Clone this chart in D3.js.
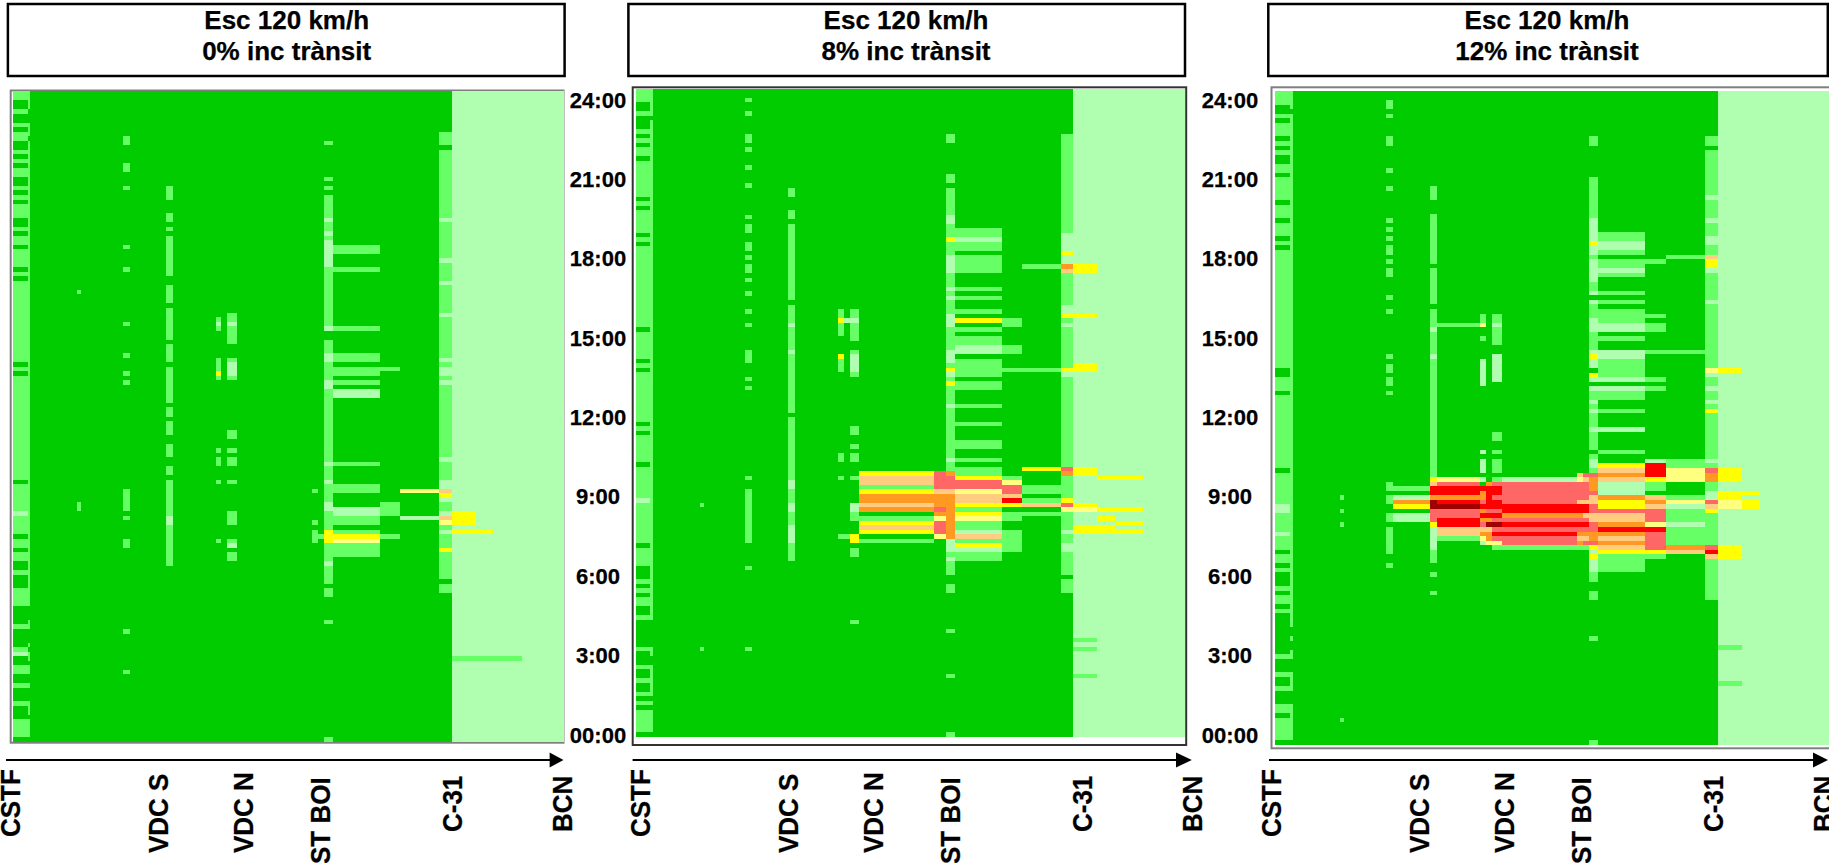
<!DOCTYPE html>
<html><head><meta charset="utf-8">
<style>html,body{margin:0;padding:0;background:#fff;overflow:hidden}text{font-family:"Liberation Sans",Arial,sans-serif;font-weight:bold;fill:#000;stroke:#000;stroke-width:.25px}</style>
<script src="https://cdn.jsdelivr.net/npm/d3@7/dist/d3.min.js"></script></head>
<body><script>
// Section boundaries along the motorway (km)
const sectionKm=[0,2.94,3.48,12.8,13.6,21.92,23.34,30.6,31.96,40.5,41.68,42.88,44.84,59.88,61.06,62.24,64,73.32,77.4,85.2,87.7,92.54,96,101.8,110.1];
const stationNames=["CSTF","VDC S","VDC N","ST BOI","C-31","BCN"];
const stationKm=[-0.6,29,46,61.4,87.8,109.8];
const timeTickHours=[24,21,18,15,12,9,6,3,0];
const timeTickLabels=["24:00","21:00","18:00","15:00","12:00","9:00","6:00","3:00","00:00"];
const levelColours=[null,"#00cc00","#66ff66","#b0ffb0","#ffff80","#ffff00","#ffcc80","#ff9922","#ff6666","#ff0000","#a00000"];
const slotCount=144; // ten-minute slots, counted down from 24:00
const baseLevelByColumn=d=>d<20?1:3;
const titleLine1="Esc 120 km/h";
const titleLines2=["0% inc trànsit","8% inc trànsit","12% inc trànsit"];

// [column(s), level, slots]; a slot is n or [from, toExclusive]
const cells0=[
[0,2,[[0,2],[4,5],[7,8],[9,11],[13,14],[15,16],[17,19],[21,22],[23,24],[25,28],[30,31],[32,34],[35,39],[40,41],[42,60],[61,62],[63,86],[87,98],[99,101],[102,104],[106,107],[110,114],[118,119],[123,125],[127,129],[131,132],[135,136],[139,143]]],
[0,3,[93,124]],
[1,2,[[0,4],[7,10],[11,114],[117,119],[122,123],[124,126],[127,129],[131,132],[135,138],[139,143]]],
[3,2,[44,91,92]],
[5,2,[10,11,16,17,21,34,39,51,58,62,64,[88,93],94,99,100,119,128]],
[7,2,[[21,24],27,28,30,[32,41],[43,47],[48,55],[56,60],[61,69],70,71,73,74,75,[78,81],83,84,[86,105]]],
[7,3,[94,95]],
[9,2,[[50,53],[59,64],79,81,82,86,99]],[9,3,[51]],[9,5,[62]],
[11,2,[[49,56],[59,64],75,76,79,81,82,86,93,94,95,99,100,102,103]],[11,3,[51,60,61,62,100]],
[13,2,[88,95,97,98,99]],[14,2,[98]],
[15,2,[11,19,21,[23,53],[55,109],[110,112],117,143]],
[15,3,[28,31,[33,39],52,58,59,64,65,82,86,91,92,104]],[15,5,[97,98,99]],
[16,2,[34,35,39,52,58,59,61,62,64,82,87,88,94,95,97,100,101,102]],[16,3,[66,67,92,93]],[16,5,[98]],[16,4,[99]],
[17,2,[61,91,92,93,98]],
[18,4,[88]],[18,3,[94]],
[19,2,[[9,12],[13,108],[109,111]]],
[19,3,[28,37,42,49,59,61,62,64,81,86,87,90,93,97]],[19,6,[88,94]],[19,5,[89,101]],[19,4,[95]],
[20,5,[93,94,95,97]],[21,5,[97]],[[20,21,22],2,[125]]
];
const cells8=[
[0,2,[[0,3],[5,6],[9,10],[11,12],[13,15],[16,24],[25,26],[27,32],[33,34],[35,53],[54,60],[61,62],[63,74],[75,76],[77,83],[84,101],[102,106],[109,110],[111,112],[113,115],[117,118],[124,125],[128,129],[131,132],[134,135],[136,137],[138,143]]],
[0,3,[91]],
[1,2,[[0,6],[7,118],[124,126],[128,135],[136,137],[138,143]]],
[3,2,[92,124]],
[5,2,[2,5,10,11,13,17,21,28,30,31,34,35,37,39,40,42,45,49,52,58,59,60,64,66,86,[89,101],106,124]],
[7,2,[22,23,27,28,[30,47],[48,72],[73,105]]],[7,3,[52,58,87,88,92,93,97,98,99,100]],
[9,2,[[49,55],[59,63],81,82,86,99]],[9,5,[51,59]],[10,3,[51]],[10,2,[99]],
[11,2,[[49,56],[58,64],75,76,79,81,82,86,94,95,102,103,118]],[11,3,[51,59,60,61,62,92,93]],[11,5,[99,100]],
[12,5,[85,89,96,98]],[12,6,[86,87,92,97]],[12,2,[88,95,100]],[12,7,[90,91,93]],
[[13,14],8,[[85,89],93,96,97,98]],[[13,14],6,[89]],[[13,14],7,[90,91,92,94]],[[13,14],4,[95,99]],
[15,2,[10,11,19,20,[22,85],[103,108],110,111,120,130,143]],
[15,3,[28,29,[37,41],44,46,[50,53],[58,61],63,70,82,[100,103],104]],[15,5,[33,62,65]],
[15,7,[85,[90,100]]],[15,8,[86,87,88]],[15,6,[89]],
[16,2,[[31,36],[37,41],44,46,49,53,55,56,[60,64],65,66,70,74,78,79,82,84,85,88,93,96,97,100,103,104]],
[16,3,[33,57,58,98,102]],[16,5,[51,86,92,94,101]],[16,8,[87,88]],[16,4,[89,95]],[16,6,[90,91,99]],
[17,2,[51,52,57,58,62,86,94,95,[98,103]]],[17,4,[87]],[17,8,[88,89]],[17,6,[90]],[17,9,[91]],[17,5,[92]],
[18,2,[39,62,88,89,91,94]],[18,5,[84]],[18,6,[92]],
[19,2,[[10,108],109,110,111]],
[19,3,[[32,36],37,38,48,49,52,63,98,101,102]],[19,5,[36,50,62,91]],[19,7,[39,85]],[19,6,[40]],[19,8,[84,92]],[19,4,[93]],
[20,5,[39,40,50,61,62,84,85,92,97,98]],[20,4,[93]],[20,2,[122,124,130]],
[21,5,[86,93,95,97,98]],[22,5,[86,93,96,98]]
];
const cells12=[
[0,2,[[0,3],[5,6],[7,10],[11,12],[13,14],[16,18],[19,24],[25,28],[29,32],[33,34],[35,61],[63,66],[67,83],[84,101],[102,104],[105,106],[109,110],[111,113],[114,115],[124,125],[128,129],[131,132],[135,137],[138,141],[141,143]]],
[0,3,[91,92,97]],
[1,2,[[0,4],[5,118],120,[123,125],[128,132],[135,143]]],
[3,2,[89,92,95,138]],
[5,2,[2,3,5,10,11,17,21,28,30,32,34,35,37,39,40,45,48,58,60,61,63,64,66,86,87,89,90,93,94,[96,102],104]],
[6,2,[87]],[6,3,[89,93,94]],[6,7,[90]],[6,5,[91]],
[7,2,[[21,24],[27,38],[39,47],[48,85],[101,104],106,110]],[7,3,[52,58,[96,101]]],
[7,5,[85]],[7,6,[86]],[7,9,[87,88]],[7,7,[89]],[7,10,[90,91]],[7,8,[92,93,94]],[7,5,[95]],
[8,2,[51,98]],[8,4,[85]],[8,8,[86,92,93]],[8,9,[87,88,90,94,95]],[8,7,[89]],[8,10,[91]],[8,6,[96,97]],
[9,2,[49,50,54]],[9,3,[[59,65],79,81,82,83,85,99]],[9,4,[51,98]],[9,9,[87,91,93]],[9,7,[88,89,92,94,97]],[9,8,[90,95]],[9,6,[96]],
[10,7,[86,94,97,98]],[10,9,[87,88,89,90,91,93]],[10,8,[92]],[10,10,[95]],[10,6,[96]],[10,4,[99]],
[11,2,[[49,56],75,76,79,[81,84],85,100]],[11,3,[51,[58,64]]],
[11,8,[86,89,92,94,96,98]],[11,9,[87,88,90,91,93,97]],[11,10,[95]],[11,4,[99]],
[12,3,[85]],[12,8,[86,87,88,89,90,94,96,98,99]],[12,9,[91,92,95,97]],[12,7,[93]],[12,2,[100]],
[13,6,[84,90,98]],[13,4,[85]],[13,8,[86,87,88,89,94,96]],[13,9,[91,92,95]],[13,7,[93,97,99]],[13,2,[100]],
[14,8,[84,86,87,88,89,94,96,99]],[14,6,[85,90,93,98]],[14,9,[91,92,95]],[14,7,[97]],[14,2,[100]],
[15,2,[10,11,[19,28],[72,79],[106,108],110,111,120,143,[31,33],36,[42,44],[47,50],[53,57],[66,68],69,71,80,83]],
[15,3,[28,29,30,31,32,[34,36],[37,42],44,46,[50,53],57,[59,61],63,65,68,70,74,81,82,101,[103,106]]],[15,5,[33,58,62,100,102]],
[15,8,[84,88,91,92,95,96,99]],[15,7,[85,86,87,97,98]],[15,6,[89,90,93,94]],
[16,2,[31,32,35,37,38,40,44,46,48,49,50,54,59,60,61,62,66,67,70,79,[102,106]]],
[16,3,[33,34,39,51,52,57,58,63,65,74,86,87,88]],
[16,5,[82,90,91,101]],[16,6,[83,85,93,94,98,100]],[16,7,[84,89,95,97,99]],[16,8,[92]],[16,9,[96]],
[17,2,[37,49,51,52,57,63,65,86,87,102]],[17,3,[81]],[17,9,[82,83,84,96]],[17,5,[85,101]],
[17,6,[89,91]],[17,7,[90]],[17,8,[92,93,94,97,98,99,100]],[17,4,[95]],
[18,2,[36,57,81,82,89,92,93,94,96,97,98,99]],[18,4,[83,84,85,90]],[18,3,[91,95]],[18,7,[100]],[18,6,[101]],
[19,2,[[10,12],[13,112]]],
[19,3,[23,28,32,33,39,46,62,65,68,70,81,88,89]],[19,6,[36,91,102]],[19,5,[37,38,70,92]],[19,4,[61]],
[19,8,[83,90,100]],[19,7,[84,85]],[19,9,[101]],
[20,5,[61,83,84,85,88,89,[100,103]]],[20,4,[90,91]],[20,2,[122,130]],
[21,5,[88,90,91]]
];

const panels=[
 {cells:cells0,title:titleLines2[0],xr:[13,563.5],yr:[91,742],box:[10.7,90.5,563.5,742.7],stroke:"#7f7f7f",titleBox:[7.9,4,564.6,76],titleX:286.7,arrow:[6,549.6,563.5],labelDx:0},
 {cells:cells8,title:titleLines2[1],xr:[635.8,1185],yr:[89,736.7],box:[632.7,87.3,1186.2,745],stroke:"#333",titleBox:[628.4,4,1185,76],titleX:906,arrow:[632.6,1176,1191.8],labelDx:630},
 {cells:cells12,title:titleLines2[2],xr:[1275.2,1831],yr:[91,745],box:[1271.5,87.3,1840,748.3],stroke:"#7f7f7f",titleBox:[1268.3,4,1827.8,76],titleX:1547,arrow:[1269,1813,1828],labelDx:1260.5}
];
const labelBottomY={"CSTF":837,"VDC S":853,"VDC N":853,"ST BOI":864,"C-31":832,"BCN":832};
const refX=d3.scaleLinear().domain([0,110.1]).range([13,563.5]);

const svg=d3.select("body").append("svg").attr("width",1829).attr("height",863).style("display","block");
panels.forEach(p=>{
  const g=svg.append("g");
  const x=d3.scaleLinear().domain([0,110.1]).range(p.xr);
  const y=d3.scaleLinear().domain([0,slotCount]).range(p.yr);
  g.append("rect").attr("x",p.titleBox[0]).attr("y",p.titleBox[1]).attr("width",p.titleBox[2]-p.titleBox[0]).attr("height",p.titleBox[3]-p.titleBox[1]).attr("fill","#fff").attr("stroke","#000").attr("stroke-width",2.5);
  const t=g.append("text").attr("text-anchor","middle").attr("font-size",26);
  t.append("tspan").attr("x",p.titleX).attr("y",28.5).text(titleLine1);
  t.append("tspan").attr("x",p.titleX).attr("y",60).text(p.title);
  g.append("rect").attr("x",p.box[0]).attr("y",p.box[1]).attr("width",p.box[2]-p.box[0]).attr("height",p.box[3]-p.box[1]).attr("fill","#fff").attr("stroke",p.stroke).attr("stroke-width",2);
  const cols=d3.range(sectionKm.length-1);
  g.selectAll(".base").data(cols).join("rect").attr("class","base")
    .attr("x",c=>x(sectionKm[c])).attr("width",c=>x(sectionKm[c+1])-x(sectionKm[c]))
    .attr("y",y(0)).attr("height",y(slotCount)-y(0))
    .attr("fill",c=>levelColours[baseLevelByColumn(c)]).attr("shape-rendering","crispEdges");
  const flat=[];
  p.cells.forEach(([c,l,rows])=>{
    (Array.isArray(c)?c:[c]).forEach(col=>rows.forEach(r=>{
      const [a,b]=Array.isArray(r)?r:[r,r+1];
      flat.push({col,l,a,b});
    }));
  });
  g.selectAll(".cell").data(flat).join("rect").attr("class","cell")
    .attr("x",d=>x(sectionKm[d.col])).attr("width",d=>x(sectionKm[d.col+1])-x(sectionKm[d.col]))
    .attr("y",d=>y(d.a)).attr("height",d=>y(d.b)-y(d.a))
    .attr("fill",d=>levelColours[d.l]).attr("shape-rendering","crispEdges");
  const yA=760;
  g.append("line").attr("x1",p.arrow[0]).attr("x2",p.arrow[1]+2).attr("y1",yA).attr("y2",yA).attr("stroke","#000").attr("stroke-width",2);
  g.append("path").attr("d",d3.line()([[p.arrow[1],yA-7.5],[p.arrow[2],yA],[p.arrow[1],yA+7.5]])+"Z").attr("fill","#000");
  g.selectAll(".st").data(stationNames).join("text").attr("class","st")
    .attr("font-size",26).attr("text-anchor","start")
    .attr("transform",(d,i)=>`translate(${refX(stationKm[i])+p.labelDx+10},${labelBottomY[d]}) rotate(-90) scale(1,1.07)`)
    .text(d=>d);
});
const timeY=d3.scaleLinear().domain([0,24]).range([735,100]);
const timeAxis=d3.axisRight(timeY).tickValues(timeTickHours).tickSize(0).tickFormat((d,i)=>timeTickLabels[i]);
[598,1230].forEach(cx=>{
  const a=svg.append("g").attr("transform",`translate(${cx},0)`).call(timeAxis);
  a.select(".domain").remove();
  a.selectAll("text").attr("x",0).attr("text-anchor","middle").attr("font-size",22).attr("font-family",'"Liberation Sans",Arial,sans-serif').attr("fill","#000");
});
</script></body></html>
